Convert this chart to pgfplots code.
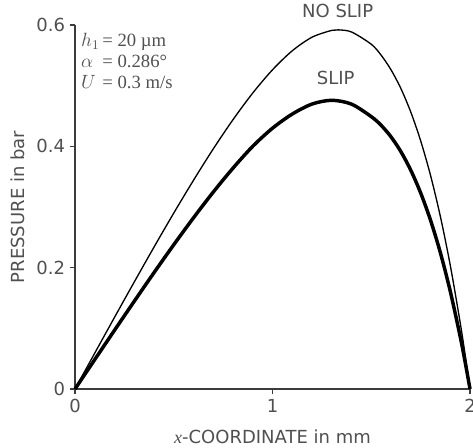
\documentclass[border=0pt]{standalone}
\usepackage{pgfplots}
\pgfplotsset{compat=1.18}
\usepackage{fontspec}
\setmainfont{DejaVu Sans}
\newfontfamily\serif{Liberation Serif}
\definecolor{txt}{RGB}{80,80,80}
\definecolor{axl}{RGB}{60,60,60}
\begin{document}
\begin{tikzpicture}[x=1pt,y=1pt]
\begin{axis}[
  scale only axis,
  width=296.25pt, height=273pt,
  at={(0,0)}, anchor=south west,
  xmin=0, xmax=2, ymin=0, ymax=0.6,
  xtick={0,1,2}, ytick={0,0.2,0.4,0.6},
  axis x line=bottom, axis y line=left,
  axis line style={-, color=axl, line width=0.9pt},
  tick align=outside, major tick length=4pt,
  tick style={color=axl, line width=0.9pt},
  /pgf/number format/assume math mode=true,
  ticklabel style={font=\fontsize{13.5}{15}\selectfont, color=txt},
  label style={font=\fontsize{13.5}{15}\selectfont, color=txt},
  xlabel={{\serif\itshape x}-COORDINATE in mm},
  ylabel={PRESSURE in bar},
  xlabel style={at={(axis description cs:0.5,-0.132)}, anchor=center},
  ylabel style={at={(axis description cs:-0.144,0.5)}, anchor=center},
  clip=false,
]
% no slip
\addplot[black, line width=1pt, smooth] coordinates {
  (0,0) (0.1,0.0592) (0.2,0.1181) (0.3,0.1764) (0.4,0.2339) (0.5,0.2900)
  (0.6,0.3441) (0.7,0.3958) (0.8,0.4440) (0.9,0.4879) (1.0,0.5262)
  (1.1,0.5575) (1.2,0.5799) (1.3,0.5912) (1.3333,0.5920) (1.4,0.5885)
  (1.5,0.5683) (1.55,0.5503) (1.6,0.5262) (1.65,0.4953) (1.7,0.4566)
  (1.75,0.4093) (1.8,0.3523) (1.85,0.2843) (1.9,0.2040) (1.95,0.1099)
  (1.975,0.0570) (2.0,0)
};
% slip
\addplot[black, line width=2.6pt, smooth] coordinates {
  (0,0) (0.1,0.0485) (0.2,0.0968) (0.3,0.1446) (0.4,0.1918) (0.5,0.2378)
  (0.6,0.2822) (0.7,0.3246) (0.8,0.3641) (0.9,0.4001) (1.0,0.4299)
  (1.1,0.4532) (1.2,0.4697) (1.3,0.4759) (1.4,0.4696) (1.5,0.4490)
  (1.55,0.4347) (1.6,0.4157) (1.65,0.3913) (1.7,0.3607) (1.75,0.3233)
  (1.8,0.2783) (1.85,0.2246) (1.9,0.1612) (1.95,0.0868) (1.975,0.0450) (2.0,0)
};
\node[font=\fontsize{13.5}{15}\selectfont, color=txt] at (axis cs:1.33,0.624) {NO SLIP};
\node[font=\fontsize{13.5}{15}\selectfont, color=txt] at (axis cs:1.32,0.512) {SLIP};
\node[anchor=north west, inner sep=0pt, color=txt, font=\serif\fontsize{14}{16}\selectfont]
  at (axis cs:0.03,0.59) {%
  \begin{tabular}{@{}l@{\,}l@{}}
  $h_1$ & = 20 µm\\
  $\alpha$ & = 0.286°\\
  $U$ & = 0.3 m/s
  \end{tabular}};
\end{axis}
\pgfresetboundingbox
\path[use as bounding box] (-56.25pt,-43.5pt) rectangle (298.5pt,291.75pt);
\end{tikzpicture}
\end{document}
